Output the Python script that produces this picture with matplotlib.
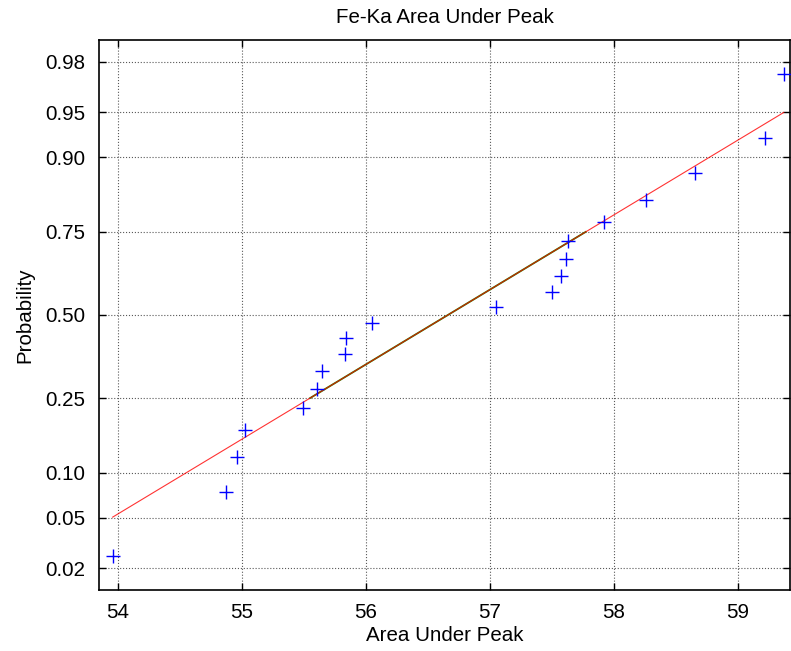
import math
import numpy as np
import matplotlib
matplotlib.use("Agg")
import matplotlib.pyplot as plt

# sorted sample values
area = [53.956, 54.874, 54.963, 55.02, 55.49, 55.607, 55.647, 55.829, 55.842, 56.051,
        57.047, 57.497, 57.574, 57.615, 57.628, 57.916, 58.255, 58.65, 59.22, 59.37]
prob_ticks = [0.02, 0.05, 0.10, 0.25, 0.50, 0.75, 0.90, 0.95, 0.98]
prob_labels = ["0.02", "0.05", "0.10", "0.25", "0.50", "0.75", "0.90", "0.95", "0.98"]
x_ticks = [54, 55, 56, 57, 58, 59]


# inverse normal cdf (Acklam approximation)
def norm_ppf(p):
    p = np.clip(np.asarray(p, dtype=float), 1e-12, 1 - 1e-12)
    a = [-3.969683028665376e+01, 2.209460984245205e+02, -2.759285104469687e+02,
         1.383577518672690e+02, -3.066479806614716e+01, 2.506628277459239e+00]
    b = [-5.447609879822406e+01, 1.615858368580409e+02, -1.556989798598866e+02,
         6.680131188771972e+01, -1.328068155288572e+01]
    c = [-7.784894002430293e-03, -3.223964580411365e-01, -2.400758277161838e+00,
         -2.549732539343734e+00, 4.374664141464968e+00, 2.938163982698783e+00]
    d = [7.784695709041462e-03, 3.224671290700398e-01, 2.445134137142996e+00,
         3.754408661907416e+00]
    out = np.empty_like(p)
    lo = p < 0.02425
    hi = p > 1 - 0.02425
    mid = ~(lo | hi)
    q = np.sqrt(-2 * np.log(p[lo]))
    out[lo] = (((((c[0]*q+c[1])*q+c[2])*q+c[3])*q+c[4])*q+c[5]) / ((((d[0]*q+d[1])*q+d[2])*q+d[3])*q+1)
    q = np.sqrt(-2 * np.log(1 - p[hi]))
    out[hi] = -(((((c[0]*q+c[1])*q+c[2])*q+c[3])*q+c[4])*q+c[5]) / ((((d[0]*q+d[1])*q+d[2])*q+d[3])*q+1)
    q = p[mid] - 0.5
    r = q * q
    out[mid] = (((((a[0]*r+a[1])*r+a[2])*r+a[3])*r+a[4])*r+a[5])*q / (((((b[0]*r+b[1])*r+b[2])*r+b[3])*r+b[4])*r+1)
    return out


def norm_cdf(z):
    z = np.asarray(z, dtype=float)
    return 0.5 * (1 + np.vectorize(math.erf)(z / math.sqrt(2)))


plt.rcParams['font.family'] = ['Liberation Sans', 'DejaVu Sans']
fs = 14.8

n = len(area)
x = np.sort(np.array(area))
p = (np.arange(1, n + 1) - 0.5) / n

# quartile line, as in normplot
q1 = np.interp(0.25, p, x)
q3 = np.interp(0.75, p, x)
z1, z3 = norm_ppf([0.25, 0.75])
slope = (z3 - z1) / (q3 - q1)
line_x = np.array([x[0], x[-1]])
line_p = norm_cdf(z1 + slope * (line_x - q1))

fig = plt.figure(figsize=(7.91, 6.51), dpi=100)
ax = fig.add_axes([0.1252, 0.0937, 0.8735, 0.8449])
ax.set_yscale('function', functions=(norm_ppf, norm_cdf))

ax.plot([q1, q3], [0.25, 0.75], color='#1a8a00', lw=1.3, zorder=3)
ax.plot(line_x, line_p, color='red', lw=0.8, alpha=0.8, zorder=4)
ax.plot(x, p, '+', color='blue', ms=10, mew=1.0, zorder=5)

ax.set_xlim(53.846, 59.42)
ax.set_ylim(0.0128, 0.9872)
ax.set_xticks(x_ticks)
ax.set_yticks(prob_ticks)
ax.set_yticklabels(prob_labels)
ax.minorticks_off()
ax.tick_params(direction='in', length=5, width=1, top=True, right=True, labelsize=fs)
ax.tick_params(axis='y', pad=10)
ax.tick_params(axis='x', pad=9)
ax.grid(True, color='0.35', linestyle=':', linewidth=0.8)
for s in ax.spines.values():
    s.set_linewidth(1.2)

ax.set_title('Fe-Ka Area Under Peak', fontsize=fs, pad=12)
ax.set_xlabel('Area Under Peak', fontsize=fs, labelpad=3)
ax.set_ylabel('Probability', fontsize=fs, labelpad=8)

fig.savefig('out.png', dpi=100)
